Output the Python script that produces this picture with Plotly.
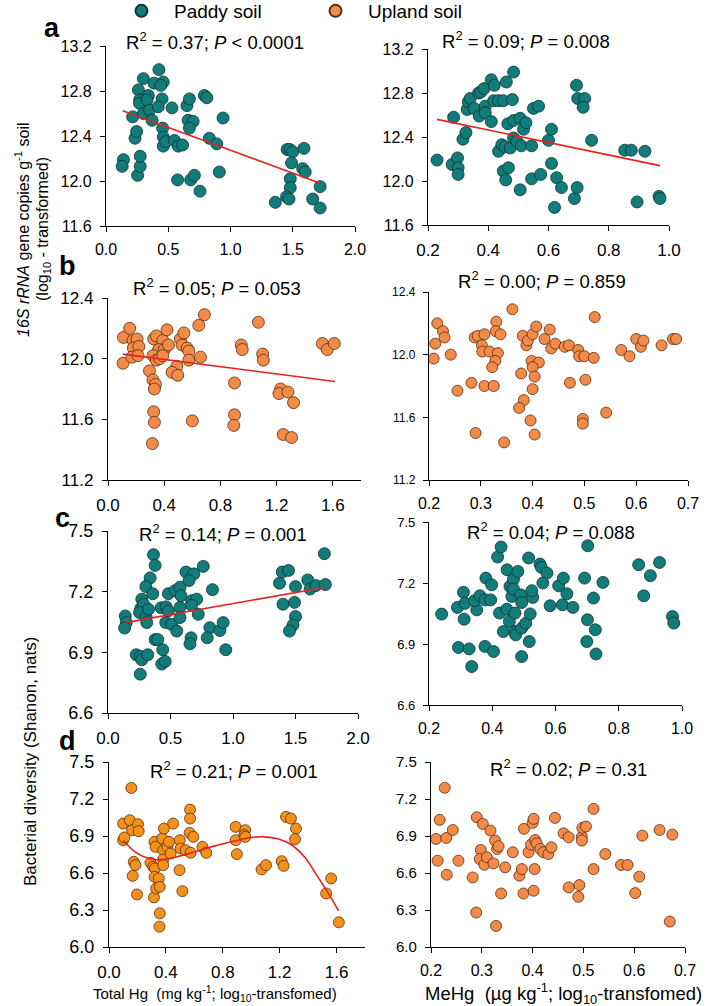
import plotly.graph_objects as go

# ---------------- data ----------------
# Panel a (paddy soil, 16S rRNA gene copies)
a_thg_x = [0.14, 0.13, 0.254, 0.275, 0.275, 0.233, 0.246, 0.214, 0.30, 0.26, 0.27, 0.27, 0.34, 0.33, 0.30,
           0.35, 0.37, 0.385, 0.425, 0.46, 0.44, 0.45, 0.42, 0.53, 0.455, 0.46, 0.46, 0.48, 0.55, 0.58,
           0.615, 0.575, 0.65, 0.67, 0.66, 0.70, 0.67, 0.68, 0.71, 0.755, 0.79, 0.81, 0.83, 0.89, 0.94,
           0.91, 1.455, 1.476, 1.50, 1.59, 1.49, 1.58, 1.60, 1.48, 1.48, 1.45, 1.47, 1.36, 1.66, 1.72, 1.72]
a_thg_y = [12.19, 12.13, 12.05, 12.13, 12.22, 12.38, 12.44, 12.57, 12.91, 12.81, 12.72, 12.69, 12.76, 12.72, 12.60,
           12.63, 12.54, 12.87, 12.99, 12.88, 12.85, 12.73, 12.66, 12.65, 12.47, 12.39, 12.31, 12.35, 12.36, 12.31,
           12.32, 12.01, 12.67, 12.73, 12.54, 12.53, 12.47, 12.01, 12.05, 11.91, 12.76, 12.74, 12.38, 12.33, 12.56,
           12.08, 12.28, 12.28, 12.26, 12.29, 12.16, 12.11, 12.08, 12.02, 11.94, 11.86, 11.84, 11.81, 11.84, 11.95, 11.76]
a_thg_fit_x = [0.134, 1.72]
a_thg_fit_y = [12.625, 11.98]

a_mehg_x = [0.23, 0.28, 0.298, 0.30, 0.30, 0.285, 0.316, 0.326, 0.33, 0.334, 0.34, 0.353, 0.37, 0.368, 0.375,
            0.386, 0.39, 0.39, 0.41, 0.41, 0.42, 0.418, 0.434, 0.45, 0.46, 0.48, 0.484, 0.465, 0.484, 0.506,
            0.517, 0.525, 0.434, 0.445, 0.456, 0.473, 0.484, 0.495, 0.51, 0.544, 0.45, 0.467, 0.458, 0.506, 0.544,
            0.574, 0.55, 0.567, 0.60, 0.61, 0.61, 0.627, 0.643, 0.62, 0.686, 0.695, 0.693, 0.697, 0.72, 0.715,
            0.743, 0.853, 0.875, 0.92, 0.894, 0.967, 0.97]
a_mehg_y = [12.19, 12.15, 12.21, 12.12, 12.06, 12.58, 12.38, 12.44, 12.65, 12.72, 12.75, 12.66, 12.59, 12.80, 12.81,
            12.84, 12.68, 12.62, 12.54, 12.92, 12.87, 12.73, 12.73, 12.73, 12.90, 12.74, 12.99, 12.52, 12.55, 12.57,
            12.47, 12.53, 12.27, 12.33, 12.31, 12.30, 12.39, 12.36, 12.32, 12.32, 12.09, 12.12, 12.01, 11.92, 12.02,
            12.06, 12.66, 12.68, 12.37, 12.47, 12.16, 12.03, 11.94, 11.76, 11.84, 11.94, 12.87, 12.75, 12.75, 12.67,
            12.37, 12.28, 12.28, 12.27, 11.81, 11.86, 11.84]
a_mehg_fit_x = [0.23, 0.97]
a_mehg_fit_y = [12.56, 12.14]

# Panel b (upland soil, 16S rRNA gene copies)
b_thg_x = [0.107, 0.11, 0.154, 0.178, 0.207, 0.18, 0.17, 0.22, 0.214, 0.325, 0.344, 0.39, 0.42, 0.36, 0.40,
           0.43, 0.32, 0.344, 0.368, 0.39, 0.295, 0.32, 0.337, 0.33, 0.515, 0.54, 0.527, 0.563, 0.575, 0.575,
           0.49, 0.456, 0.496, 0.658, 0.646, 0.686, 0.325, 0.33, 0.316, 0.60, 0.948, 0.955, 0.90, 0.90, 0.895,
           1.07, 1.10, 1.105, 1.228, 1.216, 1.28, 1.32, 1.247, 1.306, 1.525, 1.56, 1.61]
b_thg_y = [11.97, 12.14, 12.20, 12.12, 12.13, 12.07, 12.01, 12.08, 12.02, 12.13, 12.15, 12.12, 12.19, 12.06, 12.06,
           12.09, 12.02, 11.99, 12.00, 12.02, 11.92, 11.86, 11.83, 11.80, 12.13, 12.17, 12.09, 12.07, 12.05, 11.99,
           11.95, 11.91, 11.89, 12.01, 12.22, 12.29, 11.65, 11.58, 11.44, 11.59, 12.09, 12.06, 11.84, 11.63, 11.56,
           12.24, 12.03, 11.99, 11.80, 11.77, 11.78, 11.71, 11.50, 11.48, 12.10, 12.06, 12.10]
b_thg_fit_x = [0.107, 1.615]
b_thg_fit_y = [12.03, 11.85]

b_mehg_x = [0.209, 0.212, 0.216, 0.227, 0.23, 0.242, 0.255, 0.282, 0.29, 0.288, 0.294, 0.307, 0.302, 0.303, 0.307,
            0.325, 0.317, 0.33, 0.329, 0.338, 0.333, 0.328, 0.322, 0.345, 0.361, 0.381, 0.388, 0.391, 0.40, 0.407,
            0.398, 0.412, 0.40, 0.404, 0.40, 0.378, 0.383, 0.374, 0.396, 0.404, 0.423, 0.433, 0.436, 0.444, 0.462,
            0.47, 0.472, 0.488, 0.49, 0.50, 0.502, 0.52, 0.518, 0.497, 0.497, 0.542, 0.571, 0.587, 0.60, 0.609,
            0.614, 0.649, 0.671, 0.677]
b_mehg_y = [11.975, 12.07, 12.20, 12.15, 12.11, 12.00, 11.77, 11.82, 11.50, 12.11, 12.12, 12.13, 12.06, 12.02, 11.80,
            11.80, 12.02, 12.21, 12.15, 12.13, 12.01, 11.96, 11.92, 11.44, 12.29, 12.12, 12.06, 12.09, 12.13, 12.18,
            11.96, 11.95, 11.92, 11.86, 11.78, 11.88, 11.71, 11.66, 11.58, 11.49, 12.10, 12.16, 12.04, 12.07, 12.05,
            12.06, 11.82, 12.03, 11.99, 11.99, 11.84, 12.24, 11.98, 11.59, 11.56, 11.63, 12.03, 11.99, 12.10, 12.05,
            12.09, 12.06, 12.10, 12.10]

# Panel c (paddy soil, Shannon diversity)
c_thg_x = [0.138, 0.146, 0.133, 0.364, 0.377, 0.337, 0.303, 0.358, 0.27, 0.263, 0.284, 0.252, 0.305, 0.324, 0.31,
           0.226, 0.258, 0.27, 0.318, 0.258, 0.377, 0.398, 0.438, 0.43, 0.457, 0.425, 0.465, 0.483, 0.462, 0.51,
           0.55, 0.483, 0.536, 0.576, 0.584, 0.576, 0.576, 0.624, 0.687, 0.648, 0.762, 0.669, 0.709, 0.669, 0.722,
           0.664, 0.656, 0.836, 0.815, 0.794, 0.895, 0.921, 0.942, 1.372, 1.394, 1.444, 1.50, 1.40, 1.492, 1.50,
           1.48, 1.452, 1.598, 1.617, 1.664, 1.739, 1.731]
c_thg_y = [7.08, 7.047, 7.02, 7.383, 7.33, 7.268, 7.225, 7.19, 7.163, 7.118, 7.138, 7.097, 7.075, 7.113, 7.047,
           6.888, 6.88, 6.863, 6.888, 6.792, 6.963, 6.963, 6.913, 6.842, 6.855, 7.12, 7.125, 7.105, 7.047, 7.038,
           7.005, 7.19, 7.205, 7.222, 7.18, 7.122, 7.072, 7.297, 7.288, 7.255, 7.325, 7.155, 7.163, 7.133, 7.088,
           6.972, 6.942, 7.21, 7.022, 6.972, 7.008, 7.047, 6.913, 7.242, 7.297, 7.305, 7.225, 7.138, 7.147, 7.077,
           7.035, 7.005, 7.258, 7.213, 7.23, 7.235, 7.388]
c_thg_fit_x = [0.138, 1.739]
c_thg_fit_y = [7.047, 7.222]

c_mehg_x = [0.24, 0.29, 0.309, 0.314, 0.311, 0.351, 0.344, 0.361, 0.377, 0.395, 0.38, 0.398, 0.293, 0.327, 0.335,
            0.377, 0.404, 0.417, 0.428, 0.423, 0.446, 0.454, 0.435, 0.447, 0.456, 0.462, 0.467, 0.467, 0.481, 0.472,
            0.472, 0.474, 0.49, 0.493, 0.493, 0.506, 0.52, 0.517, 0.493, 0.515, 0.551, 0.555, 0.573, 0.56, 0.528,
            0.525, 0.583, 0.61, 0.625, 0.622, 0.636, 0.655, 0.692, 0.702, 0.701, 0.72, 0.699, 0.726, 0.728, 0.75,
            0.863, 0.90, 0.929, 0.879, 0.97, 0.974]
c_mehg_y = [7.047, 7.08, 7.154, 7.10, 7.022, 7.068, 7.113, 7.137, 7.117, 7.117, 7.224, 7.191, 6.883, 6.876, 6.789,
            6.888, 6.863, 7.328, 7.377, 7.052, 7.071, 7.011, 6.961, 7.265, 7.183, 7.134, 7.219, 7.17, 7.257, 7.052,
            6.961, 6.945, 7.142, 7.104, 6.978, 7.002, 7.048, 6.912, 6.838, 7.323, 7.293, 7.277, 7.249, 7.2, 7.129,
            7.162, 7.088, 7.186, 7.224, 7.093, 7.147, 7.08, 7.224, 7.383, 7.019, 7.126, 6.912, 6.97, 6.851, 7.203,
            7.29, 7.236, 7.301, 7.137, 7.035, 7.003]

# Panel d (upland soil, Shannon diversity)
d_thg_x = [0.099, 0.099, 0.108, 0.157, 0.146, 0.162, 0.204, 0.209, 0.174, 0.186, 0.167, 0.197, 0.292, 0.311, 0.32,
           0.327, 0.323, 0.32, 0.35, 0.316, 0.332, 0.357, 0.357, 0.355, 0.374, 0.386, 0.381, 0.381, 0.381, 0.41,
           0.422, 0.433, 0.451, 0.498, 0.503, 0.496, 0.516, 0.539, 0.57, 0.57, 0.567, 0.593, 0.574, 0.657, 0.684,
           0.891, 0.891, 0.899, 0.958, 0.951, 0.958, 1.073, 1.104, 1.214, 1.228, 1.245, 1.279, 1.315, 1.308, 1.527,
           1.562, 1.616]
d_thg_y = [7.001, 6.866, 6.888, 7.29, 7.028, 6.947, 6.996, 6.939, 6.691, 6.664, 6.577, 6.426, 6.683, 6.65, 6.853,
           6.812, 6.637, 6.569, 6.556, 6.402, 6.475, 6.488, 6.273, 6.165, 6.88, 6.96, 6.785, 6.71, 6.664, 6.812,
           6.853, 6.758, 7.001, 6.866, 6.799, 6.623, 6.453, 6.785, 7.114, 7.041, 6.925, 6.893, 6.764, 6.812, 6.764,
           6.974, 6.866, 6.753, 6.947, 6.907, 6.893, 6.629, 6.664, 6.696, 6.658, 7.055, 7.041, 6.96, 6.874, 6.434,
           6.556, 6.2]
d_thg_fit_x = [0.099, 0.174, 0.245, 0.316, 0.386, 0.457, 0.55, 0.644, 0.738, 0.88, 0.998, 1.092, 1.186, 1.279,
               1.374, 1.468, 1.55, 1.614]
d_thg_fit_y = [6.866, 6.78, 6.731, 6.71, 6.71, 6.726, 6.753, 6.785, 6.818, 6.858, 6.888, 6.893, 6.877, 6.831,
               6.731, 6.569, 6.421, 6.294]

d_mehg_x = [0.21, 0.213, 0.217, 0.227, 0.23, 0.231, 0.243, 0.254, 0.282, 0.289, 0.29, 0.302, 0.298, 0.296, 0.305,
            0.31, 0.317, 0.323, 0.326, 0.33, 0.333, 0.328, 0.338, 0.346, 0.361, 0.374, 0.379, 0.382, 0.383, 0.392,
            0.397, 0.40, 0.402, 0.405, 0.408, 0.404, 0.402, 0.415, 0.421, 0.431, 0.437, 0.444, 0.461, 0.471, 0.471,
            0.49, 0.492, 0.497, 0.497, 0.498, 0.505, 0.52, 0.52, 0.543, 0.574, 0.587, 0.61, 0.602, 0.616, 0.65,
            0.675, 0.67]
d_mehg_y = [6.876, 6.70, 7.031, 7.291, 6.884, 6.586, 6.949, 6.70, 6.564, 6.28, 7.052, 6.998, 6.787, 6.713, 6.667,
            6.727, 6.944, 6.678, 6.863, 6.795, 6.817, 6.171, 6.434, 6.646, 6.768, 6.578, 6.632, 6.434, 6.958, 6.768,
            6.83, 7.006, 7.039, 6.868, 6.841, 6.632, 6.456, 6.795, 6.768, 6.754, 6.808, 7.047, 6.922, 6.89, 6.483,
            6.407, 6.502, 6.895, 6.863, 6.966, 6.977, 7.12, 6.632, 6.754, 6.665, 6.665, 6.57, 6.437, 6.903, 6.949,
            6.911, 6.206]

series_names = ["Paddy soil", "Upland soil"]
stat_labels = [
    "R<sup>2</sup> = 0.37; <i>P</i> &lt; 0.0001",
    "R<sup>2</sup> = 0.09; <i>P</i> = 0.008",
    "R<sup>2</sup> = 0.05; <i>P</i> = 0.053",
    "R<sup>2</sup> = 0.00; <i>P</i> = 0.859",
    "R<sup>2</sup> = 0.14; <i>P</i> = 0.001",
    "R<sup>2</sup> = 0.04; <i>P</i> = 0.088",
    "R<sup>2</sup> = 0.21; <i>P</i> = 0.001",
    "R<sup>2</sup> = 0.02; <i>P</i> = 0.31",
]
panel_letters = ["a", "b", "c", "d"]

# ---------------- styling ----------------
W, H = 709, 1006
FONT = "Arial, 'Liberation Sans', sans-serif"
TEAL = "#127c7a"
TEAL_LINE = "#0b3232"
SALMON = "#f28a48"
SALMON_LINE = "#5a2c12"
ORANGE = "#f4911a"
FIT = "#e3241d"


def px(x):
    return x / W


def py(y):
    return 1 - y / H


panels = [
    # (x, y, fill, line, fit, xrange, xdtick, yrange, ydtick, xdom(px), ydom(px top,bottom), xtick font, ytick font, size)
    (a_thg_x, a_thg_y, TEAL, TEAL_LINE, (a_thg_fit_x, a_thg_fit_y), [0, 2], 0.5, [11.6, 13.2], 0.4,
     (106, 355), (46, 226), 16, 16, 12),
    (a_mehg_x, a_mehg_y, TEAL, TEAL_LINE, (a_mehg_fit_x, a_mehg_fit_y), [0.2, 1.0], 0.2, [11.6, 13.2], 0.4,
     (428, 669), (49, 225), 17, 16, 12),
    (b_thg_x, b_thg_y, SALMON, SALMON_LINE, (b_thg_fit_x, b_thg_fit_y), [0, 1.8], 0.4, [11.2, 12.4], 0.4,
     (108, 361), (298, 480), 17, 17, 12),
    (b_mehg_x, b_mehg_y, SALMON, SALMON_LINE, None, [0.2, 0.7], 0.1, [11.2, 12.4], 0.4,
     (429, 688), (292, 480), 16, 12, 11),
    (c_thg_x, c_thg_y, TEAL, TEAL_LINE, (c_thg_fit_x, c_thg_fit_y), [0, 2], 0.5, [6.6, 7.5], 0.3,
     (108, 358), (531, 713), 17, 18, 12),
    (c_mehg_x, c_mehg_y, TEAL, TEAL_LINE, None, [0.2, 1.0], 0.2, [6.6, 7.5], 0.3,
     (429, 682), (522, 705), 16, 13, 12),
    (d_thg_x, d_thg_y, ORANGE, SALMON_LINE, (d_thg_fit_x, d_thg_fit_y), [0, 1.8], 0.4, [6.0, 7.5], 0.3,
     (109, 365), (762, 947), 17, 18, 11),
    (d_mehg_x, d_mehg_y, SALMON, SALMON_LINE, None, [0.2, 0.7], 0.1, [6.0, 7.5], 0.3,
     (431, 685), (762, 947), 16, 15, 11),
]

fig = go.Figure()
layout = {}
legend_done = set()
for i, (xs, ys, fill, lc, fit, xr, xd, yr, yd, xdom, ydom, xtf, ytf, msz) in enumerate(panels):
    n = i + 1
    xa = "x" if n == 1 else f"x{n}"
    ya = "y" if n == 1 else f"y{n}"
    name = series_names[0] if fill == TEAL else series_names[1]
    show = name not in legend_done
    legend_done.add(name)
    fig.add_trace(go.Scatter(
        x=xs, y=ys, mode="markers", xaxis=xa, yaxis=ya, name=name, showlegend=show,
        legend="legend" if name == series_names[0] else "legend2",
        marker=dict(size=msz, color=fill, line=dict(color=lc, width=0.8)),
    ))
    if fit is not None:
        fig.add_trace(go.Scatter(
            x=fit[0], y=fit[1], mode="lines", xaxis=xa, yaxis=ya, showlegend=False,
            line=dict(color=FIT, width=1.6, shape="spline" if len(fit[0]) > 2 else "linear"),
        ))
    axis_common = dict(showline=True, linecolor="black", linewidth=1.3, ticks="outside", ticklen=5,
                       tickwidth=1.3, tickcolor="black", showgrid=False, zeroline=False, mirror=False)
    layout["xaxis" if n == 1 else f"xaxis{n}"] = dict(
        axis_common, range=xr, dtick=xd, tick0=xr[0], tickformat=".1f",
        domain=[px(xdom[0]), px(xdom[1])], anchor=ya, ticklabelstandoff=4,
        tickfont=dict(size=xtf, color="black", family=FONT))
    layout["yaxis" if n == 1 else f"yaxis{n}"] = dict(
        axis_common, range=yr, dtick=yd, tick0=yr[0], tickformat=".1f",
        domain=[py(ydom[1]), py(ydom[0])], anchor=xa, ticklabelstandoff=5,
        tickfont=dict(size=ytf, color="black", family=FONT))

annotations = []
stat_pos = [(215, 41), (526, 40), (217, 287), (542, 280), (223, 533), (551, 531), (234, 770), (568, 768)]
for txt, (x0, y0) in zip(stat_labels, stat_pos):
    annotations.append(dict(text=txt, x=px(x0), y=py(y0), xref="paper", yref="paper", showarrow=False,
                            xanchor="center", yanchor="middle", font=dict(size=18.5, color="black", family=FONT)))
letter_pos = [(52, 28), (67, 266), (62, 518), (67, 741)]
for t, (x0, y0) in zip(panel_letters, letter_pos):
    annotations.append(dict(text=f"<b>{t}</b>", x=px(x0), y=py(y0), xref="paper", yref="paper", showarrow=False,
                            xanchor="center", yanchor="middle", font=dict(size=27, color="black", family=FONT)))
annotations += [
    dict(text="<i>16S rRNA</i> gene copies g<sup>-1</sup> soil", x=px(22), y=py(230), textangle=-90),
    dict(text="(log<sub>10</sub> - transformed)", x=px(44), y=py(229), textangle=-90),
    dict(text="Bacterial diversity (Shanon, nats)", x=px(30), y=py(762), textangle=-90, font=dict(size=17)),
    dict(text="Total Hg\u00a0 (mg kg<sup>-1</sup>; log<sub>10</sub>-transfomed)", x=px(215), y=py(993),
         textangle=0, font=dict(size=15)),
    dict(text="MeHg\u00a0 (\u00b5g kg<sup>-1</sup>; log<sub>10</sub>-transfomed)", x=px(563), y=py(993),
         textangle=0, font=dict(size=18.5)),
]
for a in annotations[-5:]:
    a.update(xref="paper", yref="paper", showarrow=False, xanchor="center", yanchor="middle")
    f = dict(size=16, color="black", family=FONT)
    f.update(a.get("font", {}))
    a["font"] = f

legend_common = dict(orientation="h", y=py(11), xanchor="left", yanchor="middle",
                     font=dict(size=19, family=FONT, color="black"), itemwidth=55,
                     bgcolor="rgba(0,0,0,0)", itemsizing="constant")
fig.update_layout(
    width=W, height=H, margin=dict(l=0, r=0, t=0, b=0, autoexpand=False),
    paper_bgcolor="white", plot_bgcolor="white",
    font=dict(family=FONT, color="black"),
    annotations=annotations,
    legend=dict(legend_common, x=px(109)),
    legend2=dict(legend_common, x=px(303)),
    **layout,
)
fig.write_html("out.html", config={"displayModeBar": False},
               post_script="document.body.style.margin='0px';document.body.style.padding='0px';")
